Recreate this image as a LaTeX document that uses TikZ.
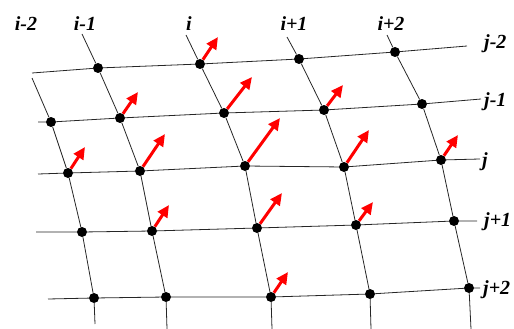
\documentclass[tikz,border=0pt]{standalone}
\usepackage{fontspec}
\setmainfont{Liberation Serif}
\usetikzlibrary{arrows.meta}

\begin{document}
\begin{tikzpicture}[
  x=1pt, y=-1pt,
  dot/.style={circle, fill=black, inner sep=0pt, minimum size=10pt},
  lbl/.style={font=\fontsize{20}{22}\selectfont\bfseries\itshape, inner sep=0pt},
  grid/.style={line width=0.8pt, color=black!85},
  vec/.style={-{Triangle[length=12pt,width=11pt]}, line width=3pt, color=red}
]
\useasboundingbox (0,0) rectangle (514,329);

\node[dot] (B0) at (98,68) {};
\node[dot] (C0) at (200,64) {};
\node[dot] (D0) at (299,59) {};
\node[dot] (E0) at (395,52) {};

\node[dot] (A1) at (51,122) {};
\node[dot] (B1) at (120,118) {};
\node[dot] (C1) at (224,113) {};
\node[dot] (D1) at (324,110) {};
\node[dot] (E1) at (422,104) {};

\node[dot] (A2) at (68,173) {};
\node[dot] (B2) at (140,171) {};
\node[dot] (C2) at (245,166) {};
\node[dot] (D2) at (344,167) {};
\node[dot] (E2) at (441,160) {};

\node[dot] (A3) at (82,232) {};
\node[dot] (B3) at (152,231) {};
\node[dot] (C3) at (257,228) {};
\node[dot] (D3) at (356,225) {};
\node[dot] (E3) at (454,221) {};

\node[dot] (A4) at (94,298) {};
\node[dot] (B4) at (166,297) {};
\node[dot] (C4) at (271,297) {};
\node[dot] (D4) at (370,294) {};
\node[dot] (E4) at (469,288) {};

\coordinate (r0w) at (32,73);  \coordinate (r0e) at (467,46);
\coordinate (r1w) at (38,122); \coordinate (r1e) at (481,99);
\coordinate (r2w) at (38,174); \coordinate (r2e) at (480,159);
\coordinate (r3w) at (36,232); \coordinate (r3e) at (477,221);
\coordinate (r4w) at (48,299); \coordinate (r4e) at (480,288);

\coordinate (cAn) at (32,78);  \coordinate (cAs) at (95,324);
\coordinate (cBn) at (82,34);  \coordinate (cBs) at (167,329);
\coordinate (cCn) at (186,35); \coordinate (cCs) at (272,329);
\coordinate (cDn) at (287,37); \coordinate (cDs) at (371,329);
\coordinate (cEn) at (387,35); \coordinate (cEs) at (471,329);

\node[lbl] (iA) at (26,24) {i-2};
\node[lbl] (iB) at (85,24) {i-1};
\node[lbl] (iC) at (189,24) {i};
\node[lbl] (iD) at (294,24) {i+1};
\node[lbl] (iE) at (391,24) {i+2};
\node[lbl, anchor=west] (j0) at (484,44) {j-2};
\node[lbl, anchor=west] (j1) at (484,102) {j-1};
\node[lbl, anchor=west] (j2) at (482,162) {j};
\node[lbl, anchor=west] (j3) at (484,222) {j+1};
\node[lbl, anchor=west] (j4) at (483,290) {j+2};

\draw[grid] (r0w) -- (B0) -- (C0) -- (D0) -- (E0) -- (r0e);
\draw[grid] (r1w) -- (A1) -- (B1) -- (C1) -- (D1) -- (E1) -- (r1e);
\draw[grid] (r2w) -- (A2) -- (B2) -- (C2) -- (D2) -- (E2) -- (r2e);
\draw[grid] (r3w) -- (A3) -- (B3) -- (C3) -- (D3) -- (E3) -- (r3e);
\draw[grid] (r4w) -- (A4) -- (B4) -- (C4) -- (D4) -- (E4) -- (r4e);

\draw[grid] (cAn) -- (A1) -- (A2) -- (A3) -- (A4) -- (cAs);
\draw[grid] (cBn) -- (B0) -- (B1) -- (B2) -- (B3) -- (B4) -- (cBs);
\draw[grid] (cCn) -- (C0) -- (C1) -- (C2) -- (C3) -- (C4) -- (cCs);
\draw[grid] (cDn) -- (D0) -- (D1) -- (D2) -- (D3) -- (D4) -- (cDs);
\draw[grid] (cEn) -- (E0) -- (E1) -- (E2) -- (E3) -- (E4) -- (cEs);

\coordinate (tC0) at (218,37);
\coordinate (tB1) at (138,92);
\coordinate (tC1) at (252,77);
\coordinate (tD1) at (343,85);
\coordinate (tA2) at (85,147);
\coordinate (tB2) at (165,134);
\coordinate (tC2) at (280,118);
\coordinate (tD2) at (369,130);
\coordinate (tE2) at (458,135);
\coordinate (tB3) at (169,205);
\coordinate (tC3) at (282,193);
\coordinate (tD3) at (373,202);
\coordinate (tC4) at (288,272);

\draw[vec] (C0) -- (tC0);
\draw[vec] (B1) -- (tB1);
\draw[vec] (C1) -- (tC1);
\draw[vec] (D1) -- (tD1);
\draw[vec] (A2) -- (tA2);
\draw[vec] (B2) -- (tB2);
\draw[vec] (C2) -- (tC2);
\draw[vec] (D2) -- (tD2);
\draw[vec] (E2) -- (tE2);
\draw[vec] (B3) -- (tB3);
\draw[vec] (C3) -- (tC3);
\draw[vec] (D3) -- (tD3);
\draw[vec] (C4) -- (tC4);
\end{tikzpicture}
\end{document}
